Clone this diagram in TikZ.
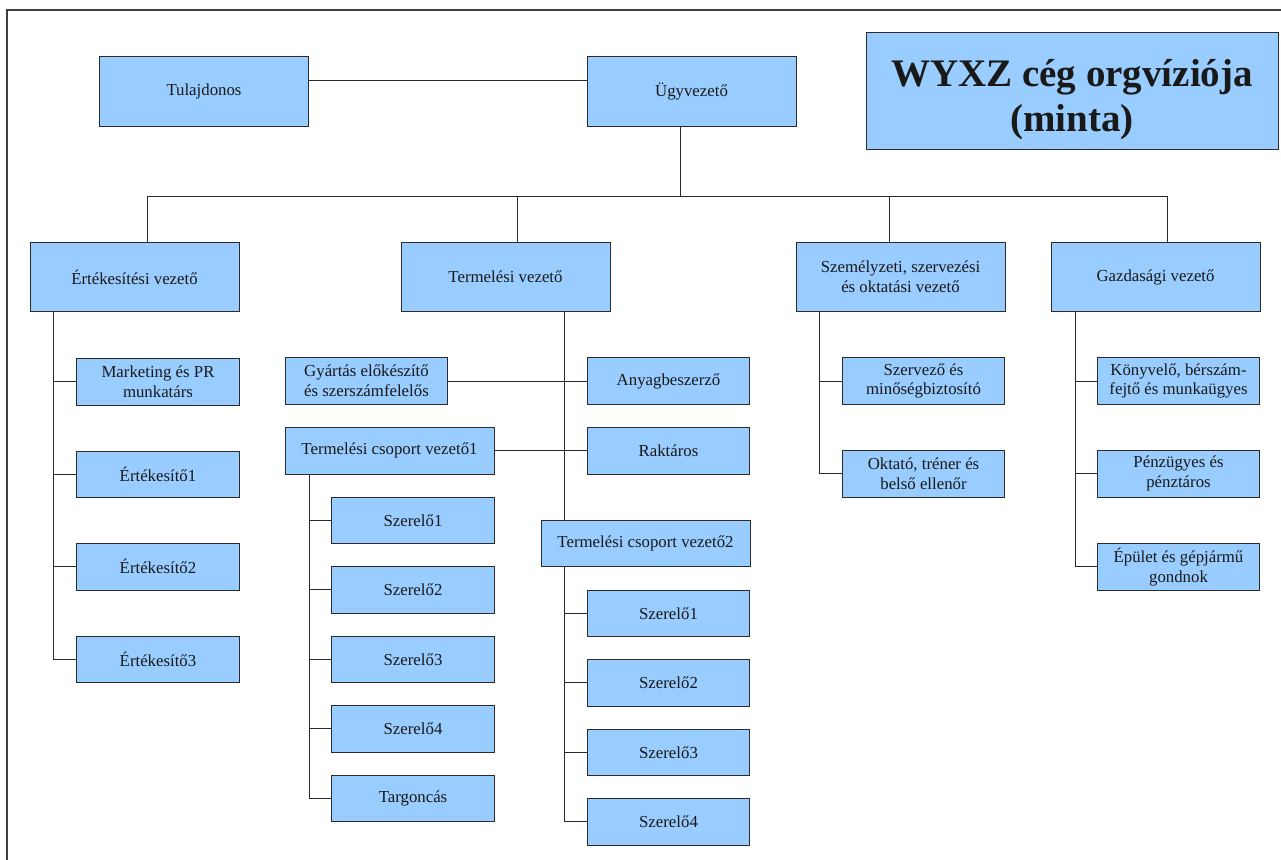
\documentclass[tikz,border=0pt]{standalone}
\usepackage{fontspec}
\setmainfont{Liberation Serif}
\definecolor{boxblue}{HTML}{99CCFF}
\definecolor{lnc}{HTML}{2a2a2a}
\tikzset{
  box/.style={draw=lnc, line width=1pt, fill=boxblue, inner sep=0pt, align=center,
    font=\fontsize{16.8}{19.7}\selectfont, text=black!90},
  wide/.style={box, minimum width=209pt, minimum height=69.5pt},
  small/.style={box, minimum width=162.5pt, minimum height=46.5pt},
  conn/.style={draw=lnc, line width=0.95pt},
  framel/.style={draw=black!75, line width=1.3pt}
}
\begin{document}
\begin{tikzpicture}[x=1pt,y=-1pt]
\useasboundingbox (0,0) rectangle (1281,859);
\draw[framel] (7,870) -- (7,10) -- (1290,10);

% top level
\node[wide, minimum height=69pt] (tul) at (204,91.5) {Tulajdonos};
\node[wide, minimum height=69pt] (ugy) at (691.5,91.5) {Ügyvezető};
\node[box, minimum width=412pt, minimum height=116pt, font=\fontsize{39}{45}\selectfont\bfseries] (title) at (1072,91) {\rule{0pt}{44pt}WYXZ cég orgvíziója\\(minta)};

% level 2
\node[wide] (ert) at (134.5,277) {Értékesítési vezető};
\node[wide] (term) at (505.5,277) {Termelési vezető};
\node[wide] (szem) at (900.5,277) {Személyzeti, szervezési\\és oktatási vezető};
\node[wide] (gazd) at (1155.5,277) {Gazdasági vezető};

% Ertekesitesi children
\node[small] (mkt) at (158,381.75) {Marketing és PR\\munkatárs};
\node[small] (ert1) at (158,474.25) {Értékesítő1};
\node[small] (ert2) at (158,566.75) {Értékesítő2};
\node[small] (ert3) at (158,659.25) {Értékesítő3};

% Termelesi children
\node[small] (gyart) at (366.5,381) {Gyártás előkészítő\\és szerszámfelelős};
\node[small] (anyag) at (668.5,381) {Anyagbeszerző};
\node[box, minimum width=209pt, minimum height=46.5pt] (tcv1) at (389.5,450.75) {Termelési csoport vezető1};
\node[small] (rakt) at (668.5,450.75) {Raktáros};
\node[small] (l1) at (413,520.25) {Szerelő1};
\node[small] (l2) at (413,589.75) {Szerelő2};
\node[small] (l3) at (413,659.25) {Szerelő3};
\node[small] (l4) at (413,728.75) {Szerelő4};
\node[small] (l5) at (413,798.25) {Targoncás};
\node[box, minimum width=209pt, minimum height=46.5pt] (tcv2) at (645.5,543.6) {Termelési csoport vezető2};
\node[small] (r1) at (668.5,613.25) {Szerelő1};
\node[small] (r2) at (668.5,682.75) {Szerelő2};
\node[small] (r3) at (668.5,752.25) {Szerelő3};
\node[small] (r4) at (668.5,821.75) {Szerelő4};

% Szemelyzeti children
\node[small] (szerv) at (923.5,381) {Szervező és\\minőségbiztosító};
\node[small] (okt) at (923.5,473.75) {Oktató, tréner és\\belső ellenőr};

% Gazdasagi children
\node[small] (konyv) at (1178.5,381) {Könyvelő, bérszám-\\fejtő és munkaügyes};
\node[small] (penz) at (1178.5,473.75) {Pénzügyes és\\pénztáros};
\node[small] (epul) at (1178.5,566.85) {Épület és gépjármű\\gondnok};

% connectors top
\draw[conn] ([yshift=11.5pt]tul.east) -- ([yshift=11.5pt]ugy.west);
\coordinate (bL) at (147,196);
\coordinate (bR) at (1167,196);
\coordinate (ugyD) at ([xshift=-11.5pt]ugy.south);
\draw[conn] (ugyD) -- (ugyD |- bL);
\draw[conn] (bL) -- (bR);
\coordinate (dT) at ([xshift=11.5pt]term.north);
\coordinate (dS) at ([xshift=-11.5pt]szem.north);
\draw[conn] (bL) -- (bL |- ert.north);
\draw[conn] (dT |- bL) -- (dT);
\draw[conn] (dS |- bL) -- (dS);
\draw[conn] (bR) -- (bR |- gazd.north);

% Ertekesitesi
\coordinate (eL) at ([xshift=-81.5pt]ert.south);
\draw[conn] (eL) |- (ert3.west);
\foreach \n in {mkt,ert1,ert2} \draw[conn] (\n.west) -- (\n.west -| eL);

% Termelesi
\coordinate (tL) at ([xshift=58.5pt]term.south);
\draw[conn] (tL) -- (tL |- tcv2.north);
\draw[conn] (gyart.east) -- (anyag.west);
\draw[conn] (tcv1.east) -- (rakt.west);
\coordinate (t1L) at ([xshift=-80.5pt]tcv1.south);
\draw[conn] (t1L) |- (l5.west);
\foreach \n in {l1,l2,l3,l4} \draw[conn] (\n.west) -- (\n.west -| t1L);
\coordinate (t2L) at ([xshift=-81.5pt]tcv2.south);
\draw[conn] (t2L) |- (r4.west);
\foreach \n in {r1,r2,r3} \draw[conn] (\n.west) -- (\n.west -| t2L);

% Szemelyzeti
\coordinate (sL) at ([xshift=-81.5pt]szem.south);
\draw[conn] (sL) |- (okt.west);
\draw[conn] (szerv.west) -- (szerv.west -| sL);

% Gazdasagi
\coordinate (gL) at ([xshift=-80.5pt]gazd.south);
\draw[conn] (gL) |- (epul.west);
\foreach \n in {konyv,penz} \draw[conn] (\n.west) -- (\n.west -| gL);
\end{tikzpicture}
\end{document}
